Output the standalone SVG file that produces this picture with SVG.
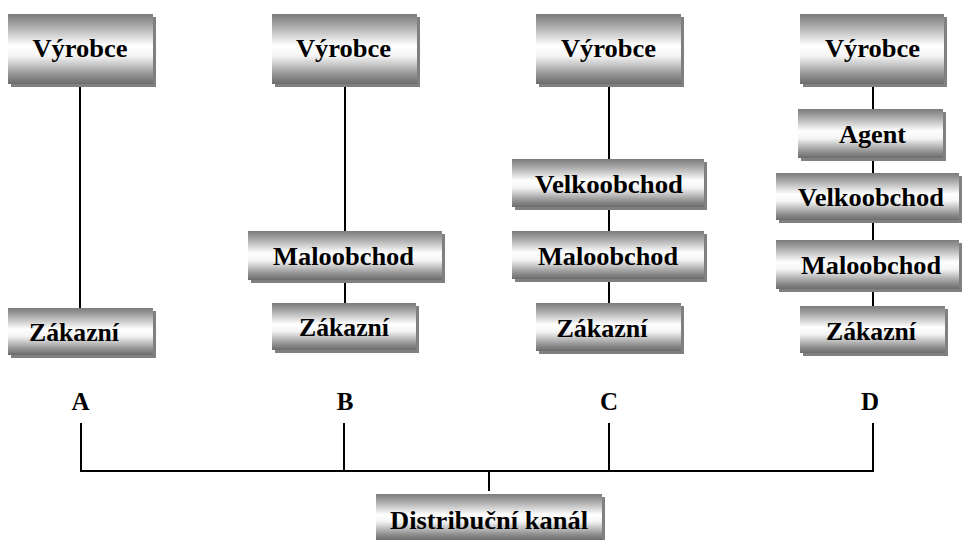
<svg xmlns="http://www.w3.org/2000/svg" width="962" height="540" viewBox="0 0 962 540">
  <defs>
    <linearGradient id="metal" x1="0" y1="0" x2="0" y2="1">
      <stop offset="0" stop-color="#7c7c7c"/>
      <stop offset="0.12" stop-color="#9a9a9a"/>
      <stop offset="0.45" stop-color="#ffffff"/>
      <stop offset="0.6" stop-color="#f4f4f4"/>
      <stop offset="0.88" stop-color="#8e8e8e"/>
      <stop offset="1" stop-color="#6c6c6c"/>
    </linearGradient>
    <style>
      .shadow { fill: #808080; }
      .box { fill: url(#metal); }
      text { font-family: 'Liberation Serif', 'Times New Roman', serif; font-weight: 700; fill: #000; text-anchor: middle; }
      .label { font-size: 26px; }
      .letter { font-size: 25px; }
      .wire { stroke: #000; stroke-width: 2; fill: none; }
    </style>
  </defs>
  <rect width="962" height="540" fill="#fff"/>

  <!-- connectors -->
  <g id="connectors" class="wire">
    <line x1="80" y1="84" x2="80" y2="308"/>
    <line x1="345" y1="84" x2="345" y2="231"/>
    <line x1="345" y1="280" x2="345" y2="303"/>
    <line x1="609" y1="84" x2="609" y2="159"/>
    <line x1="609" y1="207" x2="609" y2="231"/>
    <line x1="609" y1="279" x2="609" y2="303"/>
    <line x1="873" y1="84" x2="873" y2="109"/>
    <line x1="873" y1="158" x2="873" y2="173"/>
    <line x1="873" y1="220" x2="873" y2="240"/>
    <line x1="873" y1="289" x2="873" y2="306"/>
    <!-- bracket joining the four channels -->
    <polyline points="81,423 81,471 873,471 873,423"/>
    <line x1="344" y1="423" x2="344" y2="471"/>
    <line x1="609" y1="423" x2="609" y2="471"/>
    <line x1="489" y1="471" x2="489" y2="491"/>
  </g>

  <!-- channel A -->
  <g id="a-vyrobce">
    <rect class="shadow" x="11" y="17" width="145" height="70"/>
    <rect class="box" x="8" y="14" width="145" height="70"/>
    <text class="label" x="80" y="57" textLength="95" lengthAdjust="spacingAndGlyphs">Výrobce</text>
  </g>
  <g id="a-zakazni">
    <rect class="shadow" x="11" y="311" width="145" height="47"/>
    <rect class="box" x="8" y="308" width="145" height="47"/>
    <text class="label" x="74" y="341" textLength="90" lengthAdjust="spacingAndGlyphs">Zákazní</text>
  </g>

  <!-- channel B -->
  <g id="b-vyrobce">
    <rect class="shadow" x="275" y="17" width="145" height="70"/>
    <rect class="box" x="272" y="14" width="145" height="70"/>
    <text class="label" x="343.5" y="57" textLength="95" lengthAdjust="spacingAndGlyphs">Výrobce</text>
  </g>
  <g id="b-maloobchod">
    <rect class="shadow" x="251" y="234" width="194" height="49"/>
    <rect class="box" x="248" y="231" width="194" height="49"/>
    <text class="label" x="343.5" y="265" textLength="141" lengthAdjust="spacingAndGlyphs">Maloobchod</text>
  </g>
  <g id="b-zakazni">
    <rect class="shadow" x="275" y="306" width="144" height="47"/>
    <rect class="box" x="272" y="303" width="144" height="47"/>
    <text class="label" x="344" y="336" textLength="90" lengthAdjust="spacingAndGlyphs">Zákazní</text>
  </g>

  <!-- channel C -->
  <g id="c-vyrobce">
    <rect class="shadow" x="539" y="17" width="145" height="70"/>
    <rect class="box" x="536" y="14" width="145" height="70"/>
    <text class="label" x="608.5" y="57" textLength="95" lengthAdjust="spacingAndGlyphs">Výrobce</text>
  </g>
  <g id="c-velkoobchod">
    <rect class="shadow" x="515" y="162" width="192" height="48"/>
    <rect class="box" x="512" y="159" width="192" height="48"/>
    <text class="label" x="609" y="192.5" textLength="148" lengthAdjust="spacingAndGlyphs">Velkoobchod</text>
  </g>
  <g id="c-maloobchod">
    <rect class="shadow" x="515" y="234" width="192" height="48"/>
    <rect class="box" x="512" y="231" width="192" height="48"/>
    <text class="label" x="608" y="264.5" textLength="140" lengthAdjust="spacingAndGlyphs">Maloobchod</text>
  </g>
  <g id="c-zakazni">
    <rect class="shadow" x="539" y="306" width="145" height="48"/>
    <rect class="box" x="536" y="303" width="145" height="48"/>
    <text class="label" x="602" y="336.5" textLength="91" lengthAdjust="spacingAndGlyphs">Zákazní</text>
  </g>

  <!-- channel D -->
  <g id="d-vyrobce">
    <rect class="shadow" x="803" y="17" width="144" height="70"/>
    <rect class="box" x="800" y="14" width="144" height="70"/>
    <text class="label" x="872.5" y="57" textLength="95" lengthAdjust="spacingAndGlyphs">Výrobce</text>
  </g>
  <g id="d-agent">
    <rect class="shadow" x="801" y="112" width="145" height="49"/>
    <rect class="box" x="798" y="109" width="145" height="49"/>
    <text class="label" x="872.5" y="143" textLength="67" lengthAdjust="spacingAndGlyphs">Agent</text>
  </g>
  <g id="d-velkoobchod">
    <rect class="shadow" x="779" y="176" width="183" height="47"/>
    <rect class="box" x="776" y="173" width="183" height="47"/>
    <text class="label" x="871" y="206" textLength="146" lengthAdjust="spacingAndGlyphs">Velkoobchod</text>
  </g>
  <g id="d-maloobchod">
    <rect class="shadow" x="779" y="243" width="183" height="49"/>
    <rect class="box" x="776" y="240" width="183" height="49"/>
    <text class="label" x="871" y="274" textLength="140" lengthAdjust="spacingAndGlyphs">Maloobchod</text>
  </g>
  <g id="d-zakazni">
    <rect class="shadow" x="803" y="309" width="145" height="47"/>
    <rect class="box" x="800" y="306" width="145" height="47"/>
    <text class="label" x="871" y="339.5" textLength="90" lengthAdjust="spacingAndGlyphs">Zákazní</text>
  </g>

  <!-- channel letters -->
  <g id="letters">
    <text class="letter" x="80.5" y="410">A</text>
    <text class="letter" x="345" y="410">B</text>
    <text class="letter" x="609" y="410">C</text>
    <text class="letter" x="870" y="410">D</text>
  </g>

  <!-- root box -->
  <g id="distribucni-kanal">
    <rect class="shadow" x="379" y="497" width="226" height="46"/>
    <rect class="box" x="376" y="494" width="226" height="46"/>
    <text class="label" x="489" y="529" textLength="198" lengthAdjust="spacingAndGlyphs">Distribuční kanál</text>
  </g>
</svg>
